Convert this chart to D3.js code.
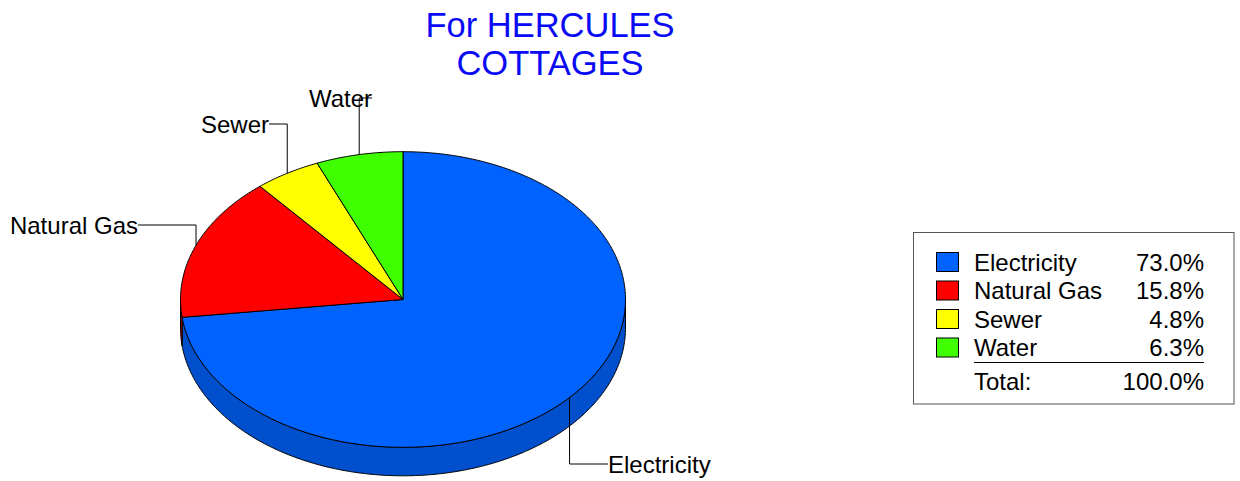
<!DOCTYPE html>
<html>
<head>
<meta charset="utf-8">
<script src="https://cdn.jsdelivr.net/npm/d3@7"></script>
<style>
  html, body { margin: 0; padding: 0; background: #fff; }
  svg { display: block; font-family: "Liberation Sans", Arial, sans-serif; }
</style>
</head>
<body>
<svg id="chart" width="1240" height="481"></svg>
<script>
// Utility cost shares
const categories = ["Electricity", "Natural Gas", "Sewer", "Water"];
const shares = [73.0, 15.8, 4.8, 6.3];
const totalShare = 100.0;
const titleLines = ["For HERCULES", "COTTAGES"];

const topColors = ["#0062FF", "#FF0000", "#FFFF00", "#40FF00"];
const sideColors = ["#004FCC", "#C00000", "#C8C800", "#30C000"];

const svg = d3.select("#chart");

// Title
svg.append("g").selectAll("text").data(titleLines).join("text")
  .attr("x", 550).attr("y", (d, i) => 36.5 + i * 38.5)
  .attr("text-anchor", "middle")
  .attr("font-size", 34.5).attr("fill", "#0A0AF5")
  .text(d => d);

// 3D pie geometry
const cx = 403, cy = 299.5, rx = 222.5, ry = 147.8, depth = 28.5;
const rows = categories.map((c, i) => ({ name: c, value: shares[i], i }));
const pie = d3.pie().value(d => d.value).sort(null).startAngle(0).endAngle(2 * Math.PI);
const arcs = pie(rows);

// angle measured clockwise from 12 o'clock, projected onto the ellipse
const px = a => cx + rx * Math.sin(a);
const py = a => cy - ry * Math.cos(a);

function arcPoints(a0, a1, dy) {
  const n = Math.max(2, Math.ceil(Math.abs(a1 - a0) / 0.01));
  return d3.range(n + 1).map(k => {
    const a = a0 + (a1 - a0) * k / n;
    return [px(a), py(a) + dy];
  });
}
const line = d3.line();

// Side walls: only the front half (between 90° and 270°) is visible
const sideG = svg.append("g");
arcs.forEach(d => {
  const a0 = Math.max(d.startAngle, Math.PI / 2);
  const a1 = Math.min(d.endAngle, 3 * Math.PI / 2);
  if (a1 <= a0) return;
  const pts = arcPoints(a0, a1, 0).concat(arcPoints(a1, a0, depth));
  sideG.append("path")
    .attr("d", line(pts) + "Z")
    .attr("fill", sideColors[d.data.i])
    .attr("stroke", "#000").attr("stroke-width", 1)
    .attr("stroke-linejoin", "round");
});

// Top faces
const topG = svg.append("g");
arcs.forEach(d => {
  const pts = [[cx, cy]].concat(arcPoints(d.startAngle, d.endAngle, 0));
  topG.append("path")
    .attr("d", line(pts) + "Z")
    .attr("fill", topColors[d.data.i])
    .attr("stroke", "#000").attr("stroke-width", 1)
    .attr("stroke-linejoin", "round");
});

// Elbow leader lines and slice labels
const leaderLayout = {
  "Electricity": { y: 464, tx: 608, anchor: "start" },
  "Natural Gas": { y: 225, tx: 138, anchor: "end" },
  "Sewer":       { y: 124, tx: 269, anchor: "end" },
  "Water":       { y: 98,  tx: 372, anchor: "end" }
};
const labelG = svg.append("g");
arcs.forEach(d => {
  const mid = (d.startAngle + d.endAngle) / 2;
  const sx = px(mid), sy = py(mid);
  const L = leaderLayout[d.data.name];
  labelG.append("path")
    .attr("d", line([[sx, sy], [sx, L.y], [L.tx, L.y]]))
    .attr("fill", "none").attr("stroke", "#000").attr("stroke-width", 1);
  labelG.append("text")
    .attr("x", L.tx)
    .attr("y", L.y + 8.5)
    .attr("text-anchor", L.anchor)
    .attr("font-size", 24).attr("fill", "#000")
    .text(d.data.name);
});

// Legend
const lg = svg.append("g");
lg.append("rect")
  .attr("x", 913.5).attr("y", 232.5).attr("width", 320.5).attr("height", 171.5)
  .attr("fill", "#fff").attr("stroke", "#555").attr("stroke-width", 1);
const fmt = v => d3.format(".1f")(v) + "%";
const rowY = d3.scaleLinear().domain([0, 1]).range([0, 28.5]);
rows.forEach(r => {
  const y0 = 252.5 + rowY(r.i);
  lg.append("rect")
    .attr("x", 936.5).attr("y", y0).attr("width", 22).attr("height", 19)
    .attr("fill", topColors[r.i]).attr("stroke", "#000").attr("stroke-width", 1);
  lg.append("text").attr("x", 974).attr("y", y0 + 18)
    .attr("font-size", 24).text(r.name);
  lg.append("text").attr("x", 1204).attr("y", y0 + 18)
    .attr("text-anchor", "end").attr("font-size", 24).text(fmt(r.value));
});
lg.append("line")
  .attr("x1", 974).attr("x2", 1204).attr("y1", 362.5).attr("y2", 362.5)
  .attr("stroke", "#000").attr("stroke-width", 1);
lg.append("text").attr("x", 974).attr("y", 390).attr("font-size", 24).text("Total:");
lg.append("text").attr("x", 1204).attr("y", 390).attr("text-anchor", "end")
  .attr("font-size", 24).text(fmt(totalShare));
</script>
</body>
</html>
